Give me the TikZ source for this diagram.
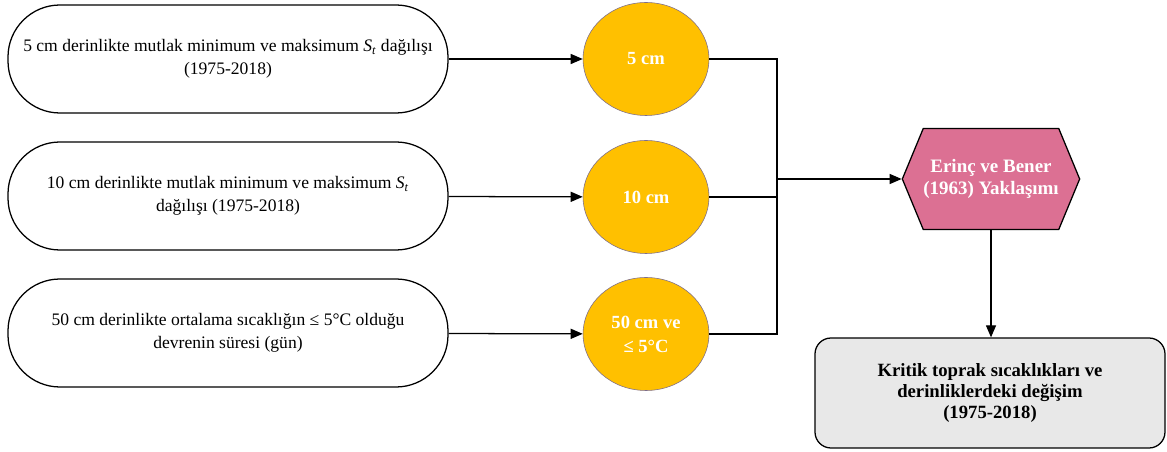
\documentclass[tikz,border=0pt]{standalone}
\usepackage{fontspec}
\setmainfont{Liberation Serif}
\usetikzlibrary{shapes.geometric, shapes.symbols, arrows.meta, positioning, calc}
\definecolor{amber}{RGB}{255,192,0}
\definecolor{rimgray}{RGB}{125,110,140}
\definecolor{rosepink}{RGB}{220,112,147}
\definecolor{lightgray}{RGB}{232,232,232}

\begin{document}
\begin{tikzpicture}[
    inbox/.style={draw, line width=0.9pt, rounded corners=1.3cm, minimum width=11cm, minimum height=2.7cm, align=center, font=\fontsize{12.5}{16}\selectfont},
    depth/.style={ellipse, draw=rimgray, line width=0.4pt, fill=amber, minimum width=3.15cm, minimum height=2.825cm, align=center, text=white, font=\fontsize{13.2}{17}\selectfont\bfseries},
    approach/.style={signal, signal to=west and east, signal pointer angle=135, draw, line width=0.9pt, fill=rosepink, minimum width=4.225cm, minimum height=2.525cm, inner sep=0pt, align=center, text=white, font=\fontsize{13.5}{16}\selectfont\bfseries},
    result/.style={draw, line width=0.9pt, fill=lightgray, rounded corners=0.4cm, minimum width=8.75cm, minimum height=2.75cm, align=center, font=\fontsize{13.3}{14.8}\selectfont\bfseries},
    link/.style={line width=0.9pt, -{Triangle[length=3mm,width=2.5mm]}},
    busline/.style={line width=0.9pt}
]
    \useasboundingbox (0,0) rectangle (29.175,-11.3);

    % Input boxes
    \node[inbox] (in5) at (5.7,-1.475) {5 cm derinlikte mutlak minimum ve maksimum \textit{S}\textsubscript{\textit{t}} dağılışı\\(1975-2018)};
    \node[inbox] (in10) at (5.7,-4.9) {10 cm derinlikte mutlak minimum ve maksimum \textit{S}\textsubscript{\textit{t}}\\dağılışı (1975-2018)};
    \node[inbox] (in50) at (5.7,-8.325) {50 cm derinlikte ortalama sıcaklığın ≤ 5°C olduğu\\devrenin süresi (gün)};

    % Depths
    \node[depth] (d5) at (16.15,-1.475) {5 cm};
    \node[depth] (d10) at (16.15,-4.925) {10 cm};
    \node[depth] (d50) at (16.15,-8.35) {50 cm ve\\≤ 5°C};

    % Approach and result
    \node[approach] (eb) at (24.775,-4.475) {Erinç ve Bener\\(1963) Yaklaşımı};
    \node[result] (res) at (24.75,-9.825) {Kritik toprak sıcaklıkları ve\\derinliklerdeki değişim\\(1975-2018)};

    % Merge point
    \coordinate (bus) at (19.425,-4.475);

    % Arrows
    \draw[link] (in5) -- (d5);
    \draw[link] (in10) -- (d10);
    \draw[link] (in50) -- (d50);
    \draw[busline] (d5.east) -| (bus |- d50.east) -- (d50.east);
    \draw[busline] (d10.east) -- (bus |- d10.east);
    \draw[link] (bus) -- (eb.west);
    \draw[link] (eb.south) -- (eb.south |- res.north);
\end{tikzpicture}
\end{document}
